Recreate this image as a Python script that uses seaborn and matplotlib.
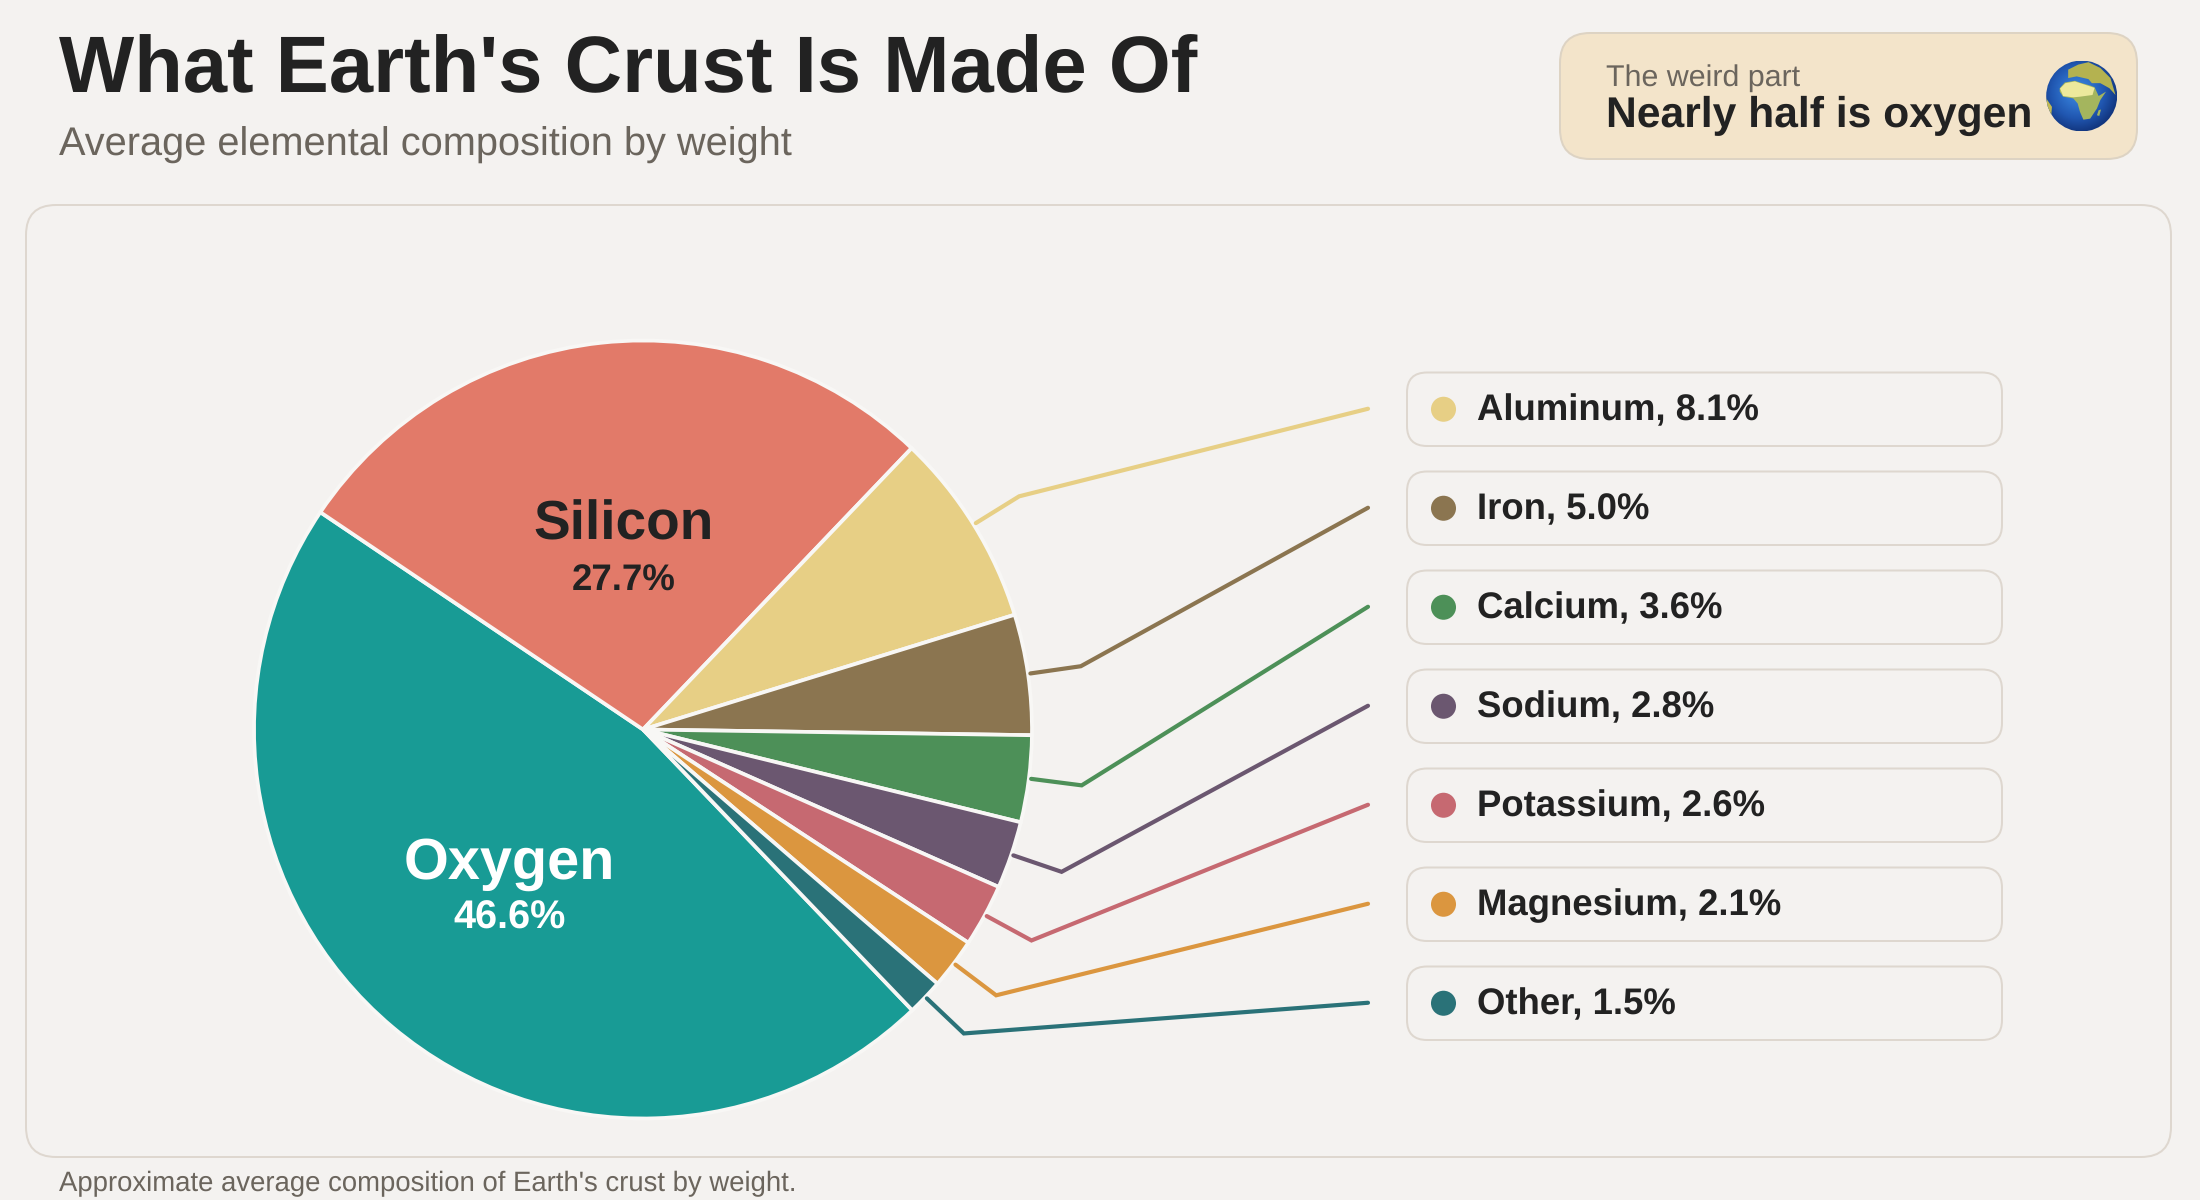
import numpy as np
import pandas as pd
import matplotlib
matplotlib.use('Agg')
import matplotlib.pyplot as plt
from matplotlib.patches import FancyBboxPatch, Circle, Polygon
import seaborn as sns

# values
elements = ['Oxygen', 'Silicon', 'Aluminum', 'Iron', 'Calcium', 'Sodium', 'Potassium', 'Magnesium', 'Other']
shares = [46.6, 27.7, 8.1, 5.0, 3.6, 2.8, 2.6, 2.1, 1.5]
colors = ['#189B95', '#E27A69', '#E7CF85', '#8B7550', '#4D9058', '#6B5770', '#C66971', '#DB963F', '#2A7278']

title = "What Earth's Crust Is Made Of"
subtitle = 'Average elemental composition by weight'
note = "Approximate average composition of Earth's crust by weight."
callout_top = 'The weird part'
callout_main = 'Nearly half is oxygen'

BG = '#F4F2F0'
EDGE = '#DED7CF'
DARK = '#222222'
GREY = '#6B655D'

sns.set_theme(style='white')
plt.rcParams['font.family'] = ['Liberation Sans', 'DejaVu Sans']
plt.rcParams['text.hinting'] = 'no_hinting'

W, H = 2200, 1200
fig = plt.figure(figsize=(22, 12), dpi=100, facecolor=BG)
ax = fig.add_axes([0, 0, 1, 1])
palette = sns.color_palette(colors)


def Y(y):
    # picture y (from top) to axes y
    return H - y


def box(x0, y0, x1, y1, rad, face, edge, lw=2.0):
    ax.add_patch(FancyBboxPatch((x0, Y(y1)), x1 - x0, y1 - y0,
                                boxstyle=f'round,pad=0,rounding_size={rad}',
                                facecolor=face, edgecolor=edge, linewidth=lw * 0.72, zorder=0.5))


# pie
cx, cy, radius = 643, 729.5, 389
wedges, _ = ax.pie(shares, colors=palette, startangle=313.8, counterclock=False,
                   center=(cx, Y(cy)), radius=radius,
                   wedgeprops={'edgecolor': '#F8F7F5', 'linewidth': 2.7})
ax.set_xlim(0, W)
ax.set_ylim(0, H)
ax.set_aspect('equal')
ax.axis('off')

box(26, 205, 2171, 1157, 30, 'none', EDGE)
box(1560, 33, 2137, 159, 30, '#F3E4CA', '#DDD3C3')

mids = [np.deg2rad((w.theta1 + w.theta2) / 2) for w in wedges]


def on_ray(angle, frac):
    return cx + radius * frac * np.cos(angle), Y(cy) + radius * frac * np.sin(angle)


# labels on the two big slices
sx, sy = on_ray(mids[1], 0.468)
ax.text(sx + 0.5, sy + 9, elements[1], ha='center', va='baseline', fontsize=39.6, fontweight='bold', color=DARK)
ax.text(sx, sy - 42, f'{shares[1]}%', ha='center', va='baseline', fontsize=26.4, fontweight='bold', color=DARK)
ox, oy = on_ray(mids[0], 0.539)
ax.text(ox + 1.5, oy + 11, elements[0], ha='center', va='baseline', fontsize=41.5, fontweight='bold', color='white')
ax.text(ox + 2, oy - 39, f'{shares[0]}%', ha='center', va='baseline', fontsize=28.5, fontweight='bold', color='white')

# rows on the right
row_top, row_h, row_step = 372.5, 73.5, 99
row_df = pd.DataFrame({'element': elements[2:], 'share': shares[2:]})
row_df['y'] = [Y(row_top + row_h / 2 + i * row_step) for i in range(len(row_df))]
row_df['x'] = 1443.5

for i, row in row_df.iterrows():
    y0 = row_top + i * row_step
    box(1407, y0, 2002, y0 + row_h, 20, BG, EDGE)
    ax.text(1477, row['y'] - 11, f"{row['element']}, {row['share']}%", ha='left', va='baseline',
            fontsize=26.3, fontweight='bold', color=DARK, zorder=4)
    # leader line
    sxy = on_ray(mids[i + 2], 1.006)
    exy = on_ray(mids[i + 2], 1.137)
    ax.plot([sxy[0], exy[0], 1368], [sxy[1] + 0.5, exy[1] + 0.5, row['y'] + 0.5], color=palette[i + 2],
            linewidth=3, solid_capstyle='round', solid_joinstyle='miter', zorder=2)

sns.scatterplot(data=row_df, x='x', y='y', hue='element', palette=palette[2:], s=325,
                linewidth=0, legend=False, ax=ax, zorder=4)
ax.set_xlim(0, W)
ax.set_ylim(0, H)
ax.axis('off')

# header
ax.text(59, Y(92), title, ha='left', va='baseline', fontsize=57.3, fontweight='bold', color=DARK)
ax.text(59, Y(156), subtitle, ha='left', va='baseline', fontsize=28.6, color=GREY)
ax.text(1606, Y(85.7), callout_top, ha='left', va='baseline', fontsize=21.9, color=GREY)
ax.text(1606, Y(126.7), callout_main, ha='left', va='baseline', fontsize=30.7, fontweight='bold', color=DARK)
ax.text(59, Y(1191), note, ha='left', va='baseline', fontsize=19.8, color=GREY)

# little globe next to the callout (no colour emoji font here)
gx, gy, gr = 2081.7, 96, 35.5
gax = fig.add_axes([(gx - gr) / W, 1 - (gy + gr) / H, 2 * gr / W, 2 * gr / H])
gax.set_xlim(-1, 1)
gax.set_ylim(-1, 1)
gax.axis('off')
xx, yy = np.meshgrid(np.linspace(-1, 1, 200), np.linspace(-1, 1, 200))
shade = np.hypot(xx + 0.1, yy - 0.12)
globe_cmap = sns.blend_palette(['#3F8BDD', '#2F72CC', '#2056B0', '#12367F'], as_cmap=True)
img = gax.imshow(shade, extent=(-1, 1, -1, 1), origin='lower', cmap=globe_cmap, vmin=0, vmax=1.15)
clip = Circle((0, 0), 1, transform=gax.transData)
img.set_clip_path(clip)

land = [
    ([(75, 115), (90, 98), (120, 93), (140, 100), (165, 107), (178, 112), (190, 138), (212, 125), (195, 150),
      (185, 175), (165, 205), (145, 208), (135, 185), (128, 160), (115, 145), (85, 140), (75, 125)], '#A4B55E'),
    ([(100, 60), (130, 45), (160, 38), (195, 55), (225, 85), (240, 135), (222, 115), (195, 100), (170, 100),
      (160, 88), (125, 80), (100, 85)], '#B4B250'),
    ([(35, 145), (52, 170), (50, 195), (38, 170)], '#C2BA55'),
    ([(190, 180), (197, 178), (192, 197), (185, 195)], '#A4B55E'),
    ([(76, 116), (92, 100), (120, 95), (160, 108), (178, 114), (172, 135), (135, 140), (115, 142), (85, 138)], '#EDE99C'),
]


def to_unit(pts):
    return [((px - 140) / 105, (138 - py) / 105) for px, py in pts]


for pts, fill in land:
    p = Polygon(to_unit(pts), closed=True, facecolor=fill, edgecolor='none')
    gax.add_patch(p)
    p.set_clip_path(clip)

fig.savefig('out.png', dpi=100, facecolor=BG)
